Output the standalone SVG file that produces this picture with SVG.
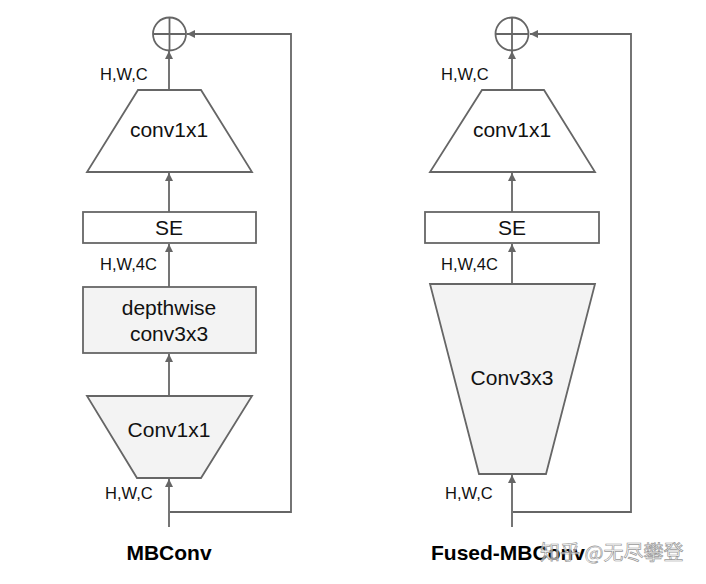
<svg xmlns="http://www.w3.org/2000/svg" width="706" height="584" viewBox="0 0 706 584">
<style>
.s{stroke:#666;stroke-width:1.8;fill:#fff}
.g{stroke:#666;stroke-width:1.8;fill:#f3f3f3}
.c{stroke:#666;stroke-width:1.8;fill:none}
.t{font-family:"Liberation Sans",Arial,sans-serif;font-size:21px;fill:#111;text-anchor:middle}
.l{font-family:"Liberation Sans",Arial,sans-serif;font-size:16.5px;fill:#111}
.b{font-family:"Liberation Sans",Arial,sans-serif;font-size:21px;font-weight:bold;fill:#000}
.w{font-family:"Noto Sans CJK SC",sans-serif;font-size:20px;fill:#fff;fill-opacity:0.6;stroke:#999;stroke-width:0.7}
</style>
<defs>
<marker id="a" viewBox="0 0 10 10" refX="10" refY="5" markerWidth="8" markerHeight="8" markerUnits="userSpaceOnUse" orient="auto">
<path d="M0,0 L10,5 L0,10 z" fill="#666"/>
</marker>
</defs>
<rect width="706" height="584" fill="#fff"/>
<g id="connectors">
<line class="c" x1="169" y1="90" x2="169" y2="51" marker-end="url(#a)"/>
<line class="c" x1="169" y1="212" x2="169" y2="173" marker-end="url(#a)"/>
<line class="c" x1="169" y1="287" x2="169" y2="244" marker-end="url(#a)"/>
<line class="c" x1="169" y1="396" x2="169" y2="354" marker-end="url(#a)"/>
<line class="c" x1="169" y1="527" x2="169" y2="479" marker-end="url(#a)"/>
<polyline class="c" points="170,512 291,512 291,34 187,34" marker-end="url(#a)"/>
<line class="c" x1="512" y1="90" x2="512" y2="51" marker-end="url(#a)"/>
<line class="c" x1="512" y1="212" x2="512" y2="173" marker-end="url(#a)"/>
<line class="c" x1="512" y1="284" x2="512" y2="244" marker-end="url(#a)"/>
<line class="c" x1="512" y1="527" x2="512" y2="475" marker-end="url(#a)"/>
<polyline class="c" points="513,512 631,512 631,34 530,34" marker-end="url(#a)"/>
</g>
<g id="mb-add">
<circle class="s" cx="169.5" cy="34" r="16.5"/>
<path class="c" d="M153,34 H186 M169.5,17.5 V50.5"/>
</g>
<g id="mb-conv1x1-top">
<polygon class="s" points="138,90 201,90 252,172 87,172"/>
<text class="t" x="169" y="137">conv1x1</text>
</g>
<g id="mb-se">
<rect class="s" x="83" y="212" width="173" height="31"/>
<text class="t" x="169" y="235">SE</text>
</g>
<g id="mb-dw">
<rect class="g" x="83" y="287" width="173" height="66"/>
<text class="t" x="169" y="315">depthwise</text>
<text class="t" x="169" y="341">conv3x3</text>
</g>
<g id="mb-conv1x1-bottom">
<polygon class="g" points="87,396 252,396 201,478 137,478"/>
<text class="t" x="169" y="437">Conv1x1</text>
</g>
<g id="mb-labels">
<text class="l" x="100" y="80">H,W,C</text>
<text class="l" x="100" y="270">H,W,4C</text>
<text class="l" x="105" y="499">H,W,C</text>
<text class="b" x="169" y="560" text-anchor="middle">MBConv</text>
</g>
<g id="fmb-add">
<circle class="s" cx="512" cy="34" r="16.5"/>
<path class="c" d="M495.5,34 H528.5 M512,17.5 V50.5"/>
</g>
<g id="fmb-conv1x1">
<polygon class="s" points="482,90 544,90 595,172 430,172"/>
<text class="t" x="512" y="137">conv1x1</text>
</g>
<g id="fmb-se">
<rect class="s" x="425" y="212" width="174" height="31"/>
<text class="t" x="512" y="235">SE</text>
</g>
<g id="fmb-conv3x3">
<polygon class="g" points="430,284 595,284 546,474 479,474"/>
<text class="t" x="512" y="385">Conv3x3</text>
</g>
<g id="fmb-labels">
<text class="l" x="441" y="80">H,W,C</text>
<text class="l" x="441" y="270">H,W,4C</text>
<text class="l" x="445" y="499">H,W,C</text>
<text class="b" x="431" y="560">Fused-MBConv</text>
</g>
<g id="watermark">
<text class="w" x="540" y="560">知乎 @无尽攀登</text>
</g>
</svg>
